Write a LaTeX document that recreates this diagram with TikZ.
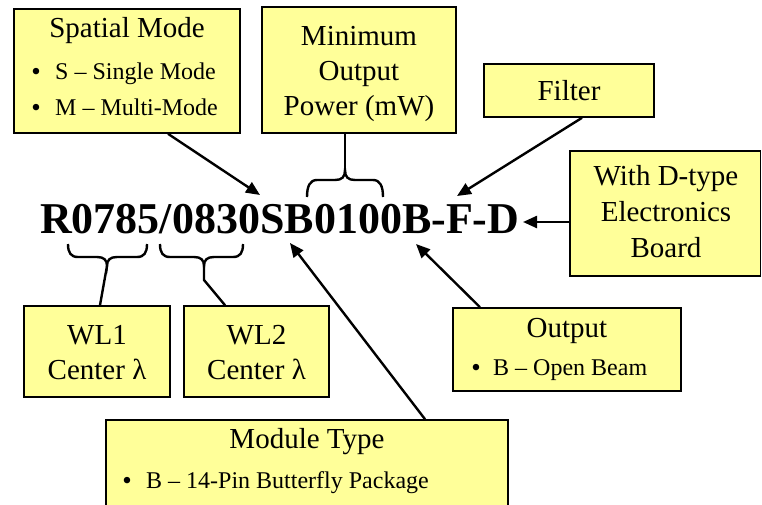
\documentclass[tikz,border=0pt]{standalone}
\usepackage{fontspec}
\setmainfont{Liberation Serif}
\usetikzlibrary{arrows.meta,calc}
\definecolor{boxyellow}{HTML}{FFFF99}
\begin{document}
\begin{tikzpicture}[x=1pt,y=-1pt,
  box/.style={draw=black, line width=1.6pt, fill=boxyellow, inner sep=0pt},
  ttl/.style={font=\fontsize{29}{35}\selectfont, anchor=base, inner sep=0pt},
  blt/.style={font=\fontsize{24}{28}\selectfont, anchor=base west, inner sep=0pt},
  dot/.style={font=\fontsize{27}{30}\selectfont, anchor=base, inner sep=0pt},
  arr/.style={line width=2.4pt, -{Triangle[length=14pt,width=12pt]}},
  brc/.style={line width=2.4pt}]
\useasboundingbox (0,0) rectangle (762,504);
\clip (0,0) rectangle (762,504);
\fill[white] (0,0) rectangle (762,504);

% boxes
\node[box, minimum width=226pt, minimum height=124pt] (spatial) at (127,71) {};
\node[box, minimum width=194pt, minimum height=126pt] (minpow) at (359,70) {};
\node[box, minimum width=170pt, minimum height=53pt] (filter) at (569,90.5) {};
\node[box, minimum width=190.5pt, minimum height=125pt] (dtype) at (665.25,213.5) {};
\node[box, minimum width=146pt, minimum height=91pt] (wl1) at (97,351.5) {};
\node[box, minimum width=145pt, minimum height=91pt] (wl2) at (256.5,351.5) {};
\node[box, minimum width=228pt, minimum height=83pt] (output) at (567,349.5) {};
\node[box, minimum width=402pt, minimum height=95pt] (module) at (307,467.5) {};

% texts
\node[ttl] (spt) at (127,37) {Spatial Mode};
\node[dot] (spd1) at (36,80) {•};
\node[blt] (sp1) at (55,79) {S – Single Mode};
\node[dot] (spd2) at (36,116) {•};
\node[blt] (sp2) at (55,115) {M – Multi-Mode};

\node[ttl] (mp1) at (359,45) {Minimum};
\node[ttl] (mp2) at (359,80) {Output};
\node[ttl] (mp3) at (359,115) {Power (mW)};

\node[ttl] (flt) at (569,100) {Filter};

\node[ttl] (dt1) at (666,185) {With D-type};
\node[ttl] (dt2) at (666,221) {Electronics};
\node[ttl] (dt3) at (666,257) {Board};

\node[ttl] (w11) at (97,344) {WL1};
\node[ttl] (w12) at (97,379) {Center λ};
\node[ttl] (w21) at (256.5,344) {WL2};
\node[ttl] (w22) at (256.5,379) {Center λ};

\node[ttl] (ot) at (567,337) {Output};
\node[dot] (od) at (476,376) {•};
\node[blt] (ob) at (493,375) {B – Open Beam};

\node[ttl] (mt) at (307,448) {Module Type};
\node[dot] (md) at (127,489) {•};
\node[blt] (mb) at (146,488) {B – 14-Pin Butterfly Package};

% main code
\node[font=\fontsize{44}{44}\selectfont\bfseries, anchor=base west, inner sep=0pt] (code) at (40,233) {R0785/0830SB0100B-F-D};

% braces
\draw[brc] (68,244) .. controls (68,253) and (71,257) .. (78,257) -- (97,257)
  .. controls (104,257) and (107,260) .. (107,266)
  .. controls (107,260) and (110,257) .. (117,257) -- (137,257)
  .. controls (144,257) and (147,253) .. (147,244);
\coordinate (b1) at (107,266);
\draw[brc] (b1) -- ([xshift=3pt]wl1.north);

\draw[brc] (160,244) .. controls (160,253) and (163,257) .. (170,257) -- (194,257)
  .. controls (201,257) and (204,260) .. (204,266)
  .. controls (204,260) and (207,257) .. (214,257) -- (233,257)
  .. controls (240,257) and (243,253) .. (243,244);
\coordinate (b2) at (204,266);
\coordinate (b2k) at (204,280);
\draw[brc] (b2) -- (b2k) -- ([xshift=-31.5pt]wl2.north);

\draw[brc] (307,197) .. controls (307,186) and (310,180) .. (317,180) -- (335,180)
  .. controls (342,180) and (345,177) .. (345,170)
  .. controls (345,177) and (348,180) .. (355,180) -- (373,180)
  .. controls (380,180) and (383,186) .. (383,197);
\coordinate (b3) at (345,170);
\draw[brc] (b3) -- (minpow.south -| b3);

% arrows
\coordinate (tipS) at (260,195);
\draw[arr] ([xshift=41pt]spatial.south) -- (tipS);
\coordinate (tipF) at (457,196);
\draw[arr] ([xshift=13pt]filter.south) -- (tipF);
\coordinate (tipD) at (523,222);
\draw[arr] (dtype.west |- tipD) -- (tipD);
\coordinate (tipO) at (416,244);
\draw[arr] ([xshift=-87pt]output.north) -- (tipO);
\coordinate (tipM) at (290,243);
\draw[arr] ([xshift=118pt]module.north) -- (tipM);
\end{tikzpicture}
\end{document}
